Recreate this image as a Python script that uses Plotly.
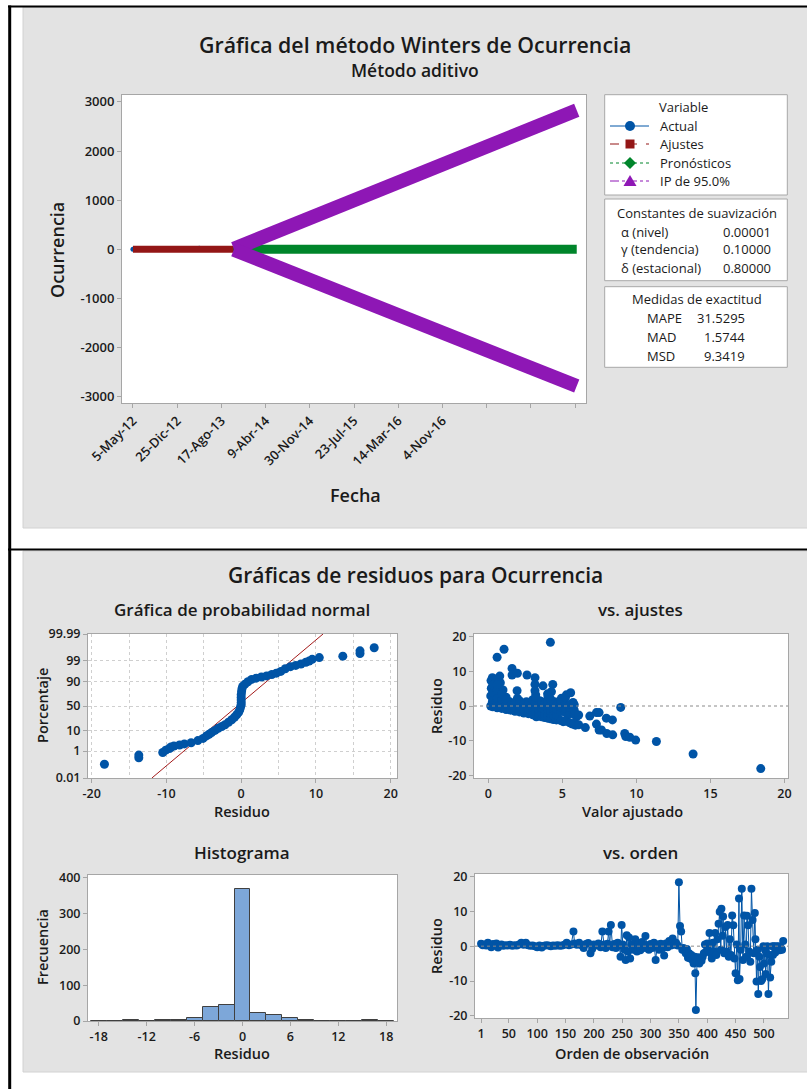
import plotly.graph_objects as go
from statistics import NormalDist

W, H = 807, 1089


def px(x):
    return x / W


def py(y):
    return 1 - y / H


# ---------------- Datos: gráfica del método Winters ----------------
fecha_pos = [1, 235, 469, 703, 937, 1171, 1405, 1639, 1873, 2107, 2341]
fecha_txt = ["5-May-12", "25-Dic-12", "17-Ago-13", "9-Abr-14", "30-Nov-14",
             "23-Jul-15", "14-Mar-16", "4-Nov-16", "", "", ""]
ocurr_ticks = [-3000, -2000, -1000, 0, 1000, 2000, 3000]

actual_t = [1, 40, 80, 120, 160, 200, 240, 280, 320, 352, 380, 420, 461, 500, 534]
actual_v = [1, 0, 1, 0, 5, 1, 4, 2, 1, 22, 0, 9, 12, 0, 4]
ajuste_t = [1, 534]
ajuste_v = [1.0, 2.5]
pron_t = [535, 2350]
pron_v = [2.5, 3.0]
ip_sup = [12, 2830]
ip_inf = [-6, -2780]

constantes = [("α (nivel)", "0.00001"), ("γ (tendencia)", "0.10000"), ("δ (estacional)", "0.80000")]
medidas = [("MAPE", "31.5295"), ("MAD", "1.5744"), ("MSD", "9.3419")]

# ---------------- Datos: gráficas de residuos ----------------
# Gráfica de probabilidad normal: (residuo, porcentaje)
normal_pares = [(-18.3, 0.13), (-13.7, 0.37), (-13.7, 0.56), (-10.5, 0.82), (-10.1, 1.13),
                (-9.6, 1.4), (-9.4, 1.7), (-9.0, 1.95), (-8.25, 2.2), (-7.6, 2.5), (-6.7, 2.9),
                (-5.8, 3.7), (-5.1, 4.7), (-4.65, 6.1), (-4.3, 7.2), (-3.97, 8.5), (-3.5, 10.4),
                (-3.07, 12.5), (-2.6, 14.5), (-2.16, 16.6), (-1.7, 20), (-1.27, 23.9), (-0.9, 28),
                (-0.6, 32.6), (-0.35, 37), (-0.2, 42), (-0.1, 47), (0.0, 52), (0.0, 57), (0.0, 62),
                (0.0, 67), (0.0, 72), (0.05, 77), (0.1, 81), (0.2, 84.5), (0.5, 87), (0.9, 89.5),
                (1.4, 91.5), (2.0, 92.5), (2.7, 93.3), (3.4, 94.0), (4.1, 94.8), (4.7, 95.5),
                (5.3, 96.3), (5.9, 97.3), (6.6, 97.9), (7.3, 98.2), (8.0, 98.5), (8.65, 98.8),
                (9.1, 99.0), (9.5, 99.2), (10.45, 99.38), (13.6, 99.5), (15.9, 99.66),
                (15.9, 99.78), (17.8, 99.87)]
linea_residuo = [-11.95, 10.95]
linea_pct = [0.01, 99.99]
pct_ticks = [0.01, 1, 10, 50, 90, 99, 99.99]
pct_txt = ["0.01", "1", "10", "50", "90", "99", "99.99"]

# vs. ajustes: (valor ajustado, residuo)
ajustes_pares = [
    (4.19, 18.3), (1.06, 16.3), (0.59, 14.0), (1.6, 10.8), (1.6, 8.9), (1.96, 9.4), (2.61, 8.9),
    (3.15, 8.15), (0.77, 8.6), (0.27, 8.15), (0.18, 7.3), (0.5, 7.7), (0.81, 6.7), (3.15, 6.2),
    (4.35, 6.2), (3.69, 5.8), (0.2, 5.1), (0.5, 5.1), (0.99, 4.6), (1.94, 4.4), (3.15, 4.4),
    (4.26, 4.1), (5.56, 3.8), (0.54, 3.6), (0.16, 2.9), (1.2, 2.5), (1.96, 2.2), (3.2, 3.2),
    (4.03, 2.7), (4.93, 2.2), (5.27, 3.2), (0.27, 1.2), (0.88, 1.0), (1.44, 1.25), (2.57, 1.25),
    (3.47, 1.5), (4.48, 1.25), (5.72, 1.0), (0.16, 0.0), (0.59, -0.4), (1.44, -1.0), (2.12, -1.3),
    (2.79, -1.6), (3.58, -2.3), (4.14, -3.1), (4.7, -3.5), (5.27, -4.0), (5.45, -1.0), (4.82, -1.15),
    (3.8, -1.15), (3.24, -3.1), (2.9, 0.0), (2.34, -0.7), (1.1, 0.0), (5.95, -3.1), (6.85, -2.9),
    (7.3, -1.9), (7.48, -1.9), (6.55, -6.2), (5.68, -5.2), (5.88, -5.5), (5.05, -4.5), (4.37, -3.7),
    (7.3, -5.2), (7.48, -6.9), (7.64, -6.9), (7.97, -3.5), (8.38, -4.0), (8.0, -7.9), (8.4, -8.3),
    (8.94, -0.4), (9.21, -7.9), (9.28, -8.8), (9.55, -9.0), (9.95, -9.8), (11.35, -10.2),
    (13.83, -13.8), (18.4, -18.0),
    (0.3, -0.2), (0.3, 0.6), (0.3, 2.0), (0.3, 4.0), (0.3, 6.0), (0.6, -0.5), (0.6, 0.3), (0.6, 2.2),
    (0.6, 4.5), (0.6, 6.2), (0.9, -0.7), (0.9, 0.2), (0.9, 2.0), (0.9, 3.5), (1.2, -1.0), (1.2, 0.5),
    (1.2, 1.8), (1.5, -1.2), (1.5, 0.3), (1.8, -1.5), (1.8, -0.5), (1.8, 0.8), (2.1, -1.7), (2.1, 0.3),
    (2.1, 1.5), (2.4, -2.0), (2.4, -1.0), (2.4, 0.5), (2.7, -2.2), (2.7, -0.8), (2.7, 0.8),
    (3.0, -2.5), (3.0, -1.5), (3.0, -0.5), (3.0, 0.6), (3.0, 1.8), (3.2, -2.7), (3.2, -1.9),
    (3.2, -0.3), (3.2, 1.0), (3.2, 2.4), (3.4, -2.9), (3.4, -2.0), (3.4, -1.0), (3.4, 0.2),
    (3.6, -3.1), (3.6, -2.0), (3.6, -0.5), (3.6, 0.5), (3.6, 1.2), (3.8, -3.3), (3.8, -2.5),
    (3.8, -0.2), (3.8, 0.7), (4.0, -3.5), (4.0, -2.6), (4.0, -1.8), (4.0, -0.8), (4.0, 0.3),
    (4.0, 1.5), (4.0, 3.5), (4.2, -3.7), (4.2, -2.2), (4.2, -1.4), (4.2, 0.0), (4.2, 0.8), (4.2, 2.0),
    (4.4, -3.9), (4.4, -2.8), (4.4, -1.2), (4.4, -0.4), (4.4, 0.5), (4.6, -4.0), (4.6, -2.5),
    (4.6, -0.8), (4.6, 0.2), (4.9, -4.2), (4.9, -1.6), (4.9, -0.2), (4.9, 0.9), (4.9, 1.6),
    (5.2, -4.4), (5.2, -1.8), (5.2, -0.6), (5.2, 0.7), (5.2, 2.4), (5.5, -4.8), (5.5, -2.2),
    (5.5, -0.4), (5.5, 0.4), (5.8, -5.0), (5.8, -2.4), (5.8, -1.2), (5.8, 0.4), (6.1, -5.4),
    (6.1, -2.6)]

# Histograma
hist_centro = [-18, -16, -14, -12, -10, -8, -6, -4, -2, 0, 2, 4, 6, 8, 10, 12, 14, 16, 18]
hist_frec = [1, 0, 2, 0, 4, 4, 9, 40, 46, 368, 21, 17, 8, 4, 1, 0, 1, 2, 1]

# vs. orden: (orden de observación, residuo)
orden_pares = [
    (1, 0.7), (4, 0.3), (7, 0.5), (10, 0.2), (13, 1.0), (16, 0.4), (19, -0.3), (22, 0.6), (25, 0.2),
    (28, 0.8), (31, -0.4), (34, 0.3), (37, 0.5), (40, 0.1), (44, 0.3), (48, 0.2), (52, 0.4), (56, 0.1),
    (60, 0.3), (64, 0.2), (68, 0.5), (72, 1.0), (76, 0.4), (80, 1.0), (84, 0.3), (88, 0.1), (92, 0.2),
    (96, 0.0), (100, -0.3), (104, 0.2), (108, -0.4), (112, 0.1), (116, 0.3), (120, 0.2), (124, 0.0),
    (128, 0.2), (132, 0.1), (136, 0.3), (140, 0.1), (144, 0.2), (148, 0.4), (152, 1.0), (156, 0.3),
    (160, 0.5), (164, 4.2), (166, 0.8), (170, 0.4), (174, 1.0), (178, 0.3), (182, -0.5), (186, 0.6),
    (190, 0.9), (194, -2.0), (197, -0.8), (200, 0.5), (204, 0.2), (208, 0.8), (212, -0.3), (215, 4.2),
    (218, 0.5), (221, -0.5), (224, 0.7), (226, 4.2), (228, 0.3), (230, 6.1), (233, -0.3), (236, 0.6),
    (239, -0.5), (242, 1.0), (245, 0.2), (247, -3.0), (249, 6.1), (251, 0.5), (254, -1.0), (256, -4.0),
    (258, 3.1), (260, -1.5), (262, 2.5), (264, -3.5), (267, 0.5), (270, -1.0), (273, 2.0), (276, -1.5),
    (279, 0.8), (282, -1.2), (285, 1.2), (288, -0.5), (291, 2.9), (294, 0.3), (297, -1.0), (300, 0.6),
    (303, -0.5), (306, 1.0), (309, -4.0), (312, 0.5), (315, -1.0), (318, 0.7), (321, -0.5), (324, -2.7),
    (327, 0.8), (330, -0.3), (333, 1.5), (336, 0.2), (339, 2.2), (342, 0.4), (345, 1.0), (348, 0.2),
    (350, 18.3), (352, 5.8), (354, 4.2), (356, -1.0), (358, -0.5), (360, -1.2), (362, -2.0), (364, -0.8),
    (366, -3.3), (368, -2.0), (370, -3.5), (372, -2.5), (374, -4.0), (376, -5.0), (378, -3.0),
    (379, -7.8), (380, -18.3), (382, -4.5), (384, -3.2), (386, -5.0), (388, -3.5), (390, -4.2),
    (392, -3.0), (394, -2.0), (396, 0.5), (398, -1.5), (400, 0.8), (402, -1.0), (404, 3.8), (406, -2.0),
    (408, -3.5), (410, 1.0), (412, -1.5), (414, 3.8), (416, -2.5), (418, 2.0), (420, 6.4), (422, 9.9),
    (424, -1.0), (425, 10.7), (427, 3.0), (428, 8.5), (430, -2.0), (432, 5.5), (434, -1.5), (436, 6.1),
    (438, -3.0), (440, 2.0), (442, -2.5), (444, 8.8), (446, 6.0), (448, -3.5), (450, -7.8), (452, 0.5),
    (454, -9.8), (456, 13.7), (457, -9.4), (459, -1.0), (461, 16.5), (463, -4.0), (465, 8.8), (467, 0.5),
    (469, -3.0), (470, 8.7), (472, 6.0), (474, -1.5), (476, -4.5), (478, 16.5), (480, 7.5), (482, -2.0),
    (484, 9.5), (485, 2.0), (487, -10.1), (489, -1.0), (490, -13.7), (492, -3.0), (493, -6.0),
    (495, -10.0), (497, -9.5), (499, 0.0), (500, -5.0), (502, -1.0), (503, -8.0), (505, -2.0), (506, 0.0),
    (508, -13.7), (510, -2.5), (511, -9.0), (513, -4.5), (515, 0.0), (516, -2.5), (518, 0.0), (520, -1.8),
    (522, 0.0), (524, -1.0), (526, 0.0), (528, -1.2), (530, -0.5), (532, -1.0), (534, 1.5)]
orden_ticks = [1, 50, 100, 150, 200, 250, 300, 350, 400, 450, 500]

# ---------------- Estilo ----------------
FONT = "Open Sans"
TXT = "#1a1a1a"
AZUL = "#0054A6"
ROJO = "#931616"
VERDE = "#00852B"
MORADO = "#8E17B5"
PANEL = "#e3e3e3"
MARCO = "#a6a6a6"

nd = NormalDist()


def z(p):
    return nd.inv_cdf(p / 100.0)


def lab(vals):
    # etiquetas con guion simple, como en el original
    return [f"{v:g}" for v in vals]


def ax(size=12.5, **kw):
    d = dict(showline=True, linecolor=MARCO, linewidth=1, mirror=True, ticks="outside", ticklen=4,
             tickcolor=MARCO, tickfont=dict(family=FONT, size=size, color=TXT, weight=600),
             showgrid=False, zeroline=False, fixedrange=True, automargin=False)
    d.update(kw)
    if "tickvals" in d and "ticktext" not in d:
        d["ticktext"] = lab(d["tickvals"])
    return d


fig = go.Figure()

# ----- top chart traces
fig.add_trace(go.Scatter(x=actual_t, y=actual_v, mode="lines+markers", line=dict(color=AZUL, width=1),
                         marker=dict(size=5, color=AZUL), xaxis="x", yaxis="y"))
fig.add_trace(go.Scatter(x=ajuste_t, y=ajuste_v, mode="lines", line=dict(color=ROJO, width=7),
                         xaxis="x", yaxis="y"))
fig.add_trace(go.Scatter(x=pron_t, y=pron_v, mode="lines", line=dict(color=VERDE, width=9),
                         xaxis="x", yaxis="y"))
fig.add_trace(go.Scatter(x=pron_t, y=ip_sup, mode="lines", line=dict(color=MORADO, width=14),
                         xaxis="x", yaxis="y"))
fig.add_trace(go.Scatter(x=pron_t, y=ip_inf, mode="lines", line=dict(color=MORADO, width=14),
                         xaxis="x", yaxis="y"))

# ----- normal probability
fig.add_trace(go.Scatter(x=linea_residuo, y=[z(p) for p in linea_pct], mode="lines",
                         line=dict(color="#a31b1b", width=1), xaxis="x2", yaxis="y2"))
fig.add_trace(go.Scatter(x=[r for r, _ in normal_pares], y=[z(p) for _, p in normal_pares], mode="markers",
                         marker=dict(size=9, color=AZUL), xaxis="x2", yaxis="y2"))

# ----- vs ajustes
fig.add_trace(go.Scatter(x=[f for f, _ in ajustes_pares], y=[r for _, r in ajustes_pares], mode="markers",
                         marker=dict(size=9, color=AZUL), xaxis="x3", yaxis="y3"))

# ----- histogram
fig.add_trace(go.Bar(x=hist_centro, y=hist_frec, width=2,
                     marker=dict(color="#7da7d9", line=dict(color="#404040", width=1)),
                     xaxis="x4", yaxis="y4"))

# ----- vs orden
fig.add_trace(go.Scatter(x=[o for o, _ in orden_pares], y=[r for _, r in orden_pares], mode="lines+markers",
                         line=dict(color=AZUL, width=1), marker=dict(size=8, color=AZUL),
                         xaxis="x5", yaxis="y5"))

# ----- axes
fig.update_layout(
    xaxis=ax(size=13, domain=[px(122), px(586)], anchor="y", range=[-57, 2399], tickvals=fecha_pos,
             ticktext=fecha_txt, tickangle=-45),
    yaxis=ax(size=13, domain=[py(403), py(95)], anchor="x", range=[-3125, 3140], tickvals=ocurr_ticks),
    xaxis2=ax(domain=[px(88), px(397)], anchor="y2", range=[-20.5, 20.85], tickvals=[-20, -10, 0, 10, 20],
              showgrid=True, gridcolor="#cfcfcf", griddash="dot", gridwidth=1,
              minor=dict(tickvals=[-15, -5, 5, 15], showgrid=True, gridcolor="#cfcfcf", griddash="dot",
                         ticks="")),
    yaxis2=ax(domain=[py(778), py(634)], anchor="x2", range=[z(0.01), z(99.99)],
              tickvals=[z(p) for p in pct_ticks], ticktext=pct_txt,
              showgrid=True, gridcolor="#cfcfcf", griddash="dot", gridwidth=1),
    xaxis3=ax(domain=[px(474), px(788)], anchor="y3", range=[-0.97, 20.24], tickvals=[0, 5, 10, 15, 20]),
    yaxis3=ax(domain=[py(778), py(634)], anchor="x3", range=[-20.7, 20.7], tickvals=[-20, -10, 0, 10, 20]),
    xaxis4=ax(domain=[px(88), px(397)], anchor="y4", range=[-19.35, 19.35],
              tickvals=[-18, -12, -6, 0, 6, 12, 18]),
    yaxis4=ax(domain=[py(1021), py(875)], anchor="x4", range=[0, 408], tickvals=[0, 100, 200, 300, 400]),
    xaxis5=ax(domain=[px(475), px(788)], anchor="y5", range=[-9.7, 542.5], tickvals=orden_ticks),
    yaxis5=ax(domain=[py(1018), py(874)], anchor="x5", range=[-20.6, 20.7], tickvals=[-20, -10, 0, 10, 20]),
)

# ----- shapes
shapes = []
# grey panels
shapes.append(dict(type="rect", xref="paper", yref="paper", x0=px(23), x1=px(812), y0=py(528), y1=py(7),
                   fillcolor=PANEL, line=dict(color="#d2d2d2", width=1), layer="below"))
shapes.append(dict(type="rect", xref="paper", yref="paper", x0=px(23), x1=px(812), y0=py(1072), y1=py(551),
                   fillcolor=PANEL, line=dict(color="#d2d2d2", width=1), layer="below"))
# white plot areas
for a in ["", "2", "3", "4", "5"]:
    shapes.append(dict(type="rect", xref=f"x{a} domain", yref=f"y{a} domain", x0=0, x1=1, y0=0, y1=1,
                       fillcolor="white", line=dict(width=0), layer="below"))
# black frame lines
shapes.append(dict(type="line", xref="paper", yref="paper", x0=px(8), x1=px(812), y0=py(6.5), y1=py(6.5),
                   line=dict(color="black", width=2)))
shapes.append(dict(type="line", xref="paper", yref="paper", x0=px(9.7), x1=px(9.7), y0=py(5.5), y1=py(1095),
                   line=dict(color="black", width=3)))
shapes.append(dict(type="line", xref="paper", yref="paper", x0=px(8), x1=px(812), y0=py(549.5), y1=py(549.5),
                   line=dict(color="black", width=2)))
# zero reference lines
for a in ["3", "5"]:
    shapes.append(dict(type="line", xref=f"x{a} domain", yref=f"y{a}", x0=0, x1=1, y0=0, y1=0,
                       line=dict(color="#8a8a8a", width=1, dash="dot")))
# legend / info boxes
for (y0, y1) in [(94.7, 195), (199, 280.7), (286.7, 367.3)]:
    shapes.append(dict(type="rect", xref="paper", yref="paper", x0=px(604.7), x1=px(787.3), y0=py(y1), y1=py(y0),
                       fillcolor="white", line=dict(color="#a8a8a8", width=1)))
# legend glyphs
leg_rows = [("Actual", AZUL, "solid", 126), ("Ajustes", ROJO, "dash", 144),
            ("Pronósticos", VERDE, "dot", 163), ("IP de 95.0%", MORADO, "dashdot", 181)]
for name, col, dash, yy in leg_rows:
    shapes.append(dict(type="line", xref="paper", yref="paper", x0=px(610), x1=px(649), y0=py(yy), y1=py(yy),
                       line=dict(color=col, width=1, dash=dash)))
cx = 630
shapes.append(dict(type="circle", xref="paper", yref="paper", x0=px(cx - 5), x1=px(cx + 5), y0=py(131), y1=py(121),
                   fillcolor=AZUL, line=dict(width=0)))
shapes.append(dict(type="rect", xref="paper", yref="paper", x0=px(cx - 4.5), x1=px(cx + 4.5), y0=py(148.5),
                   y1=py(139.5), fillcolor=ROJO, line=dict(width=0)))
shapes.append(dict(type="path", xref="paper", yref="paper",
                   path=f"M {px(cx)},{py(157)} L {px(cx + 6)},{py(163)} L {px(cx)},{py(169)} L {px(cx - 6)},{py(163)} Z",
                   fillcolor=VERDE, line=dict(width=0)))
shapes.append(dict(type="path", xref="paper", yref="paper",
                   path=f"M {px(cx)},{py(175)} L {px(cx + 6.5)},{py(186)} L {px(cx - 6.5)},{py(186)} Z",
                   fillcolor=MORADO, line=dict(width=0)))


def txt(x, y, s, size, xanchor="center", weight=600, angle=0):
    return dict(x=px(x), y=py(y), xref="paper", yref="paper", text=s, showarrow=False, xanchor=xanchor,
                yanchor="middle", textangle=angle, font=dict(family=FONT, size=size, color=TXT, weight=weight))


ann = [
    txt(415, 44, "Gráfica del método Winters de Ocurrencia", 21.3),
    txt(415, 70, "Método aditivo", 17.5),
    txt(57, 250, "Ocurrencia", 18, angle=-90),
    txt(355, 495, "Fecha", 18),
    txt(683, 107, "Variable", 13, weight=400),
    txt(697, 213, "Constantes de suavización", 13, weight=400),
    txt(697, 299, "Medidas de exactitud", 13, weight=400),
    txt(415, 575, "Gráficas de residuos para Ocurrencia", 21),
    txt(242, 609, "Gráfica de probabilidad normal", 17),
    txt(640, 609, "vs. ajustes", 17),
    txt(242, 852, "Histograma", 17),
    txt(640, 852, "vs. orden", 17),
    txt(42, 706, "Porcentaje", 14.5, angle=-90),
    txt(242, 811, "Residuo", 14.5),
    txt(436, 706, "Residuo", 14.5, angle=-90),
    txt(632, 811, "Valor ajustado", 14.5),
    txt(42, 947, "Frecuencia", 14.5, angle=-90),
    txt(242, 1053, "Residuo", 14.5),
    txt(436, 946, "Residuo", 14.5, angle=-90),
    txt(632, 1053, "Orden de observación", 14.5),
]
for name, col, dash, yy in leg_rows:
    ann.append(txt(658, yy, name, 13, xanchor="left", weight=400))
for i, (k, v) in enumerate(constantes):
    yy = [231.7, 249.3, 267.7][i]
    ann.append(txt(619, yy, k, 13, xanchor="left", weight=400))
    ann.append(txt(773, yy, v, 13, xanchor="right", weight=400))
for i, (k, v) in enumerate(medidas):
    yy = [318.3, 336.7, 355.7][i]
    ann.append(txt(645, yy, k, 13, xanchor="left", weight=400))
    ann.append(txt(747, yy, v, 13, xanchor="right", weight=400))

fig.update_layout(
    width=W, height=H, margin=dict(l=0, r=0, t=0, b=0, pad=0, autoexpand=False),
    paper_bgcolor="white", plot_bgcolor="white",
    showlegend=False, shapes=shapes, annotations=ann, bargap=0,
    font=dict(family=FONT, color=TXT),
)

fig.write_html("out.html", config={"displayModeBar": False},
               post_script="document.body.style.margin='0';document.body.style.overflow='hidden';")
